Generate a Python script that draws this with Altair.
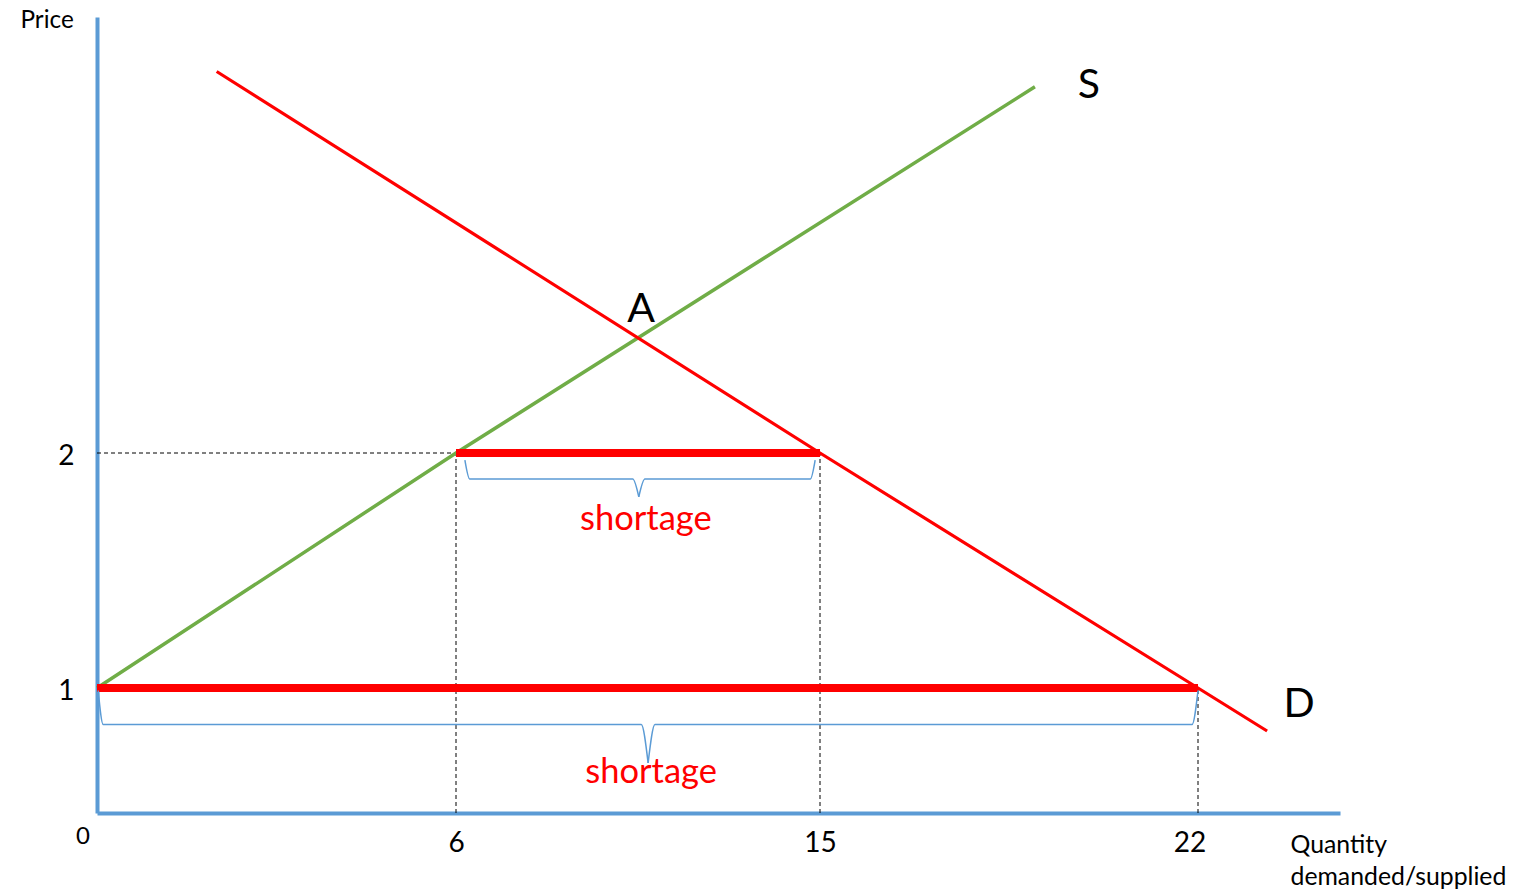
import altair as alt
import pandas as pd

# ---------------- values ----------------
q_ticks = [0, 6, 15, 22]            # quantity tick labels
p_ticks = [1, 2]                    # price tick labels

supply_q = [0, 6, 18.98]            # S curve
supply_p = [1, 2, 3.68]

demand_q = [2.0, 15, 22, 23.46]     # D curve
demand_p = [3.75, 2, 1, 0.656]

ceiling_p = [2, 1]                  # price levels
qs_at_ceiling = [6, 0]              # quantity supplied at that price
qd_at_ceiling = [15, 22]            # quantity demanded at that price

eq_q = [10.5]                       # equilibrium A
eq_p = [2.53]
eq_label = ["A"]

# braces under each shortage: start q, end q, tip q, end p, flat p, tip p
brace_q0 = [6.22, 0.02]
brace_q1 = [14.88, 22.0]
brace_qtip = [10.52, 10.75]
brace_pend = [1.97, 0.98]
brace_pmid = [1.889, 0.708]
brace_ptip = [1.813, 0.40]
brace_dq_end = [(0.12, 0.12), (0.084, 0.11)]
brace_dq_tip = [0.15, 0.17]

FONT = "Lato"
BLUE = "#5B9BD5"
RED = "#FF0000"
GREEN = "#70AD47"

# ---------------- scales / axes ----------------
xs = alt.Scale(domain=[0, 6, 15, 22, 25], range=[0, 359, 723, 1101, 1243],
               nice=False, zero=False)
ys = alt.Scale(domain=[0, 1, 2, 4], range=[796, 671, 436, 0],
               nice=False, zero=False)

x_axis = alt.Axis(
    values=q_ticks, format="d", ticks=False, grid=False,
    domainColor=BLUE, domainWidth=4,
    labelFont=FONT, labelColor="black", labelBaseline="alphabetic",
    labelFontSize={"condition": {"test": "datum.value === 0", "value": 24}, "value": 28},
    labelPadding={"condition": {"test": "datum.value === 0", "value": 30}, "value": 38},
    labelOffset={"condition": [{"test": "datum.value === 0", "value": -14.5},
                               {"test": "datum.value === 22", "value": -8.5}],
                 "value": 0},
    labelFlush=False, labelOverlap=False,
    title=["Quantity", "demanded/supplied"], titleX=1193, titleY=39.5,
    titleAlign="left", titleAngle=0, titleBaseline="alphabetic",
    titleFont=FONT, titleFontSize=24.8, titleFontWeight="normal",
    titleColor="black", titleLineHeight=31.5,
)
y_axis = alt.Axis(
    values=p_ticks, format="d", ticks=False, grid=False,
    domainColor=BLUE, domainWidth=4,
    labelFont=FONT, labelFontSize=28, labelColor="black",
    labelAlign="right", labelBaseline="alphabetic", labelOffset=11,
    labelPadding=23, labelFlush=False, labelOverlap=False,
    title="Price", titleX=-77, titleY=10, titleAngle=0,
    titleAlign="left", titleBaseline="alphabetic",
    titleFont=FONT, titleFontSize=24.3, titleFontWeight="normal",
    titleColor="black",
)

X = alt.X("q:Q", scale=xs, axis=x_axis)
Y = alt.Y("p:Q", scale=ys, axis=y_axis)

# ---------------- tables ----------------
vert_rows, horiz_rows, short_rows = [], [], []
for p, qs, qd in zip(ceiling_p, qs_at_ceiling, qd_at_ceiling):
    for q in (qs, qd):
        if q > 0:
            vert_rows.append({"q": q, "p": 0, "p2": p})
    if qs > 0:
        horiz_rows.append({"q": 0, "q2": qs, "p": p})
    short_rows.append({"q": qs, "q2": qd, "p": p})

brace_rows = []
for i in range(len(brace_q0)):
    q0, q1, qt = brace_q0[i], brace_q1[i], brace_qtip[i]
    pe, pm, pt = brace_pend[i], brace_pmid[i], brace_ptip[i]
    de, dt = brace_dq_end[i], brace_dq_tip[i]
    left = [(q0, pe), (q0 + de[0], pm), (qt - dt, pm), (qt, pt)]
    right = [(qt, pt), (qt + dt, pm), (q1 - de[1], pm), (q1, pe)]
    for half, pts in (("L", left), ("R", right)):
        for k, (q, p) in enumerate(pts):
            brace_rows.append({"q": q, "p": p, "half": f"{i}{half}", "idx": k})

supply_df = pd.DataFrame({"q": supply_q, "p": supply_p})
demand_df = pd.DataFrame({"q": demand_q, "p": demand_p})

# ---------------- layers ----------------
dash_v = alt.Chart(pd.DataFrame(vert_rows)).mark_rule(
    color="black", strokeWidth=1, strokeDash=[4, 3]
).encode(x=X, y=Y, y2="p2:Q")

dash_h = alt.Chart(pd.DataFrame(horiz_rows)).mark_rule(
    color="black", strokeWidth=1, strokeDash=[4, 3]
).encode(x=X, x2="q2:Q", y=Y)

supply = alt.Chart(supply_df).mark_line(color=GREEN, strokeWidth=3.5).encode(x=X, y=Y)
demand = alt.Chart(demand_df).mark_line(color=RED, strokeWidth=3.2).encode(x=X, y=Y)

shortage = alt.Chart(pd.DataFrame(short_rows)).mark_rule(
    color=RED, strokeWidth=8
).encode(x=X, x2="q2:Q", y=Y)

braces = alt.Chart(pd.DataFrame(brace_rows)).mark_line(
    color=BLUE, strokeWidth=1.5, interpolate="monotone"
).encode(x=X, y=Y, detail="half:N", order="idx:Q")

def label(df, dx, dy, size, color="black"):
    return alt.Chart(df).mark_text(
        font=FONT, fontSize=size, color=color, align="center",
        baseline="alphabetic", dx=dx, dy=dy
    ).encode(x=X, y=Y, text="t:N")

s_lab = label(pd.DataFrame({"q": [supply_q[-1]], "p": [supply_p[-1]], "t": ["S"]}), 54, 11, 41)
d_lab = label(pd.DataFrame({"q": [demand_q[-1]], "p": [demand_p[-1]], "t": ["D"]}), 32, -14, 41)
a_lab = label(pd.DataFrame({"q": eq_q, "p": eq_p, "t": eq_label}), 3, -15, 41)
sh_top = label(pd.DataFrame({"q": [brace_qtip[0]], "p": [ceiling_p[0]], "t": ["shortage"]}), 7, 77, 34.5, RED)
sh_bot = label(pd.DataFrame({"q": [brace_qtip[1]], "p": [ceiling_p[1]], "t": ["shortage"]}), 3, 95, 34.5, RED)

chart = alt.layer(
    dash_v, dash_h, supply, demand, shortage, braces,
    s_lab, d_lab, a_lab, sh_top, sh_bot
).properties(
    width=1243, height=796,
    autosize=alt.AutoSizeParams(type="none"),
    padding={"left": 89, "top": 9, "right": 166, "bottom": 80},
    background="white",
).configure_view(stroke=None)

chart.save("out.html", embed_options={"renderer": "svg", "actions": False})
